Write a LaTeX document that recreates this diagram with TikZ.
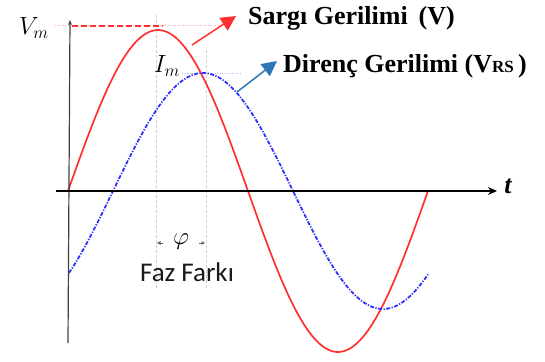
\documentclass[tikz,border=0pt]{standalone}
\usepackage{amsmath}
\usepackage{fontspec}
\usetikzlibrary{arrows.meta}
\newfontfamily\calfont{Carlito}
\newfontfamily\timesfont{Liberation Serif}
\definecolor{sred}{HTML}{FF3030}
\definecolor{sblue}{HTML}{3030FF}
\definecolor{arrblue}{HTML}{2E75B6}
\definecolor{lpink}{HTML}{FFB0B0}
\definecolor{lblue}{HTML}{B0B0FF}
\definecolor{gridgray}{HTML}{D0D0D0}
\tikzset{
  gridline/.style={gridgray, line width=0.8pt, dash pattern=on 3pt off 2pt},
  guide/.style={line width=1pt, dash pattern=on 1pt off 1.5pt},
  redcurve/.style={sred, line width=1.7pt},
  bluecurve/.style={sblue, line width=1.8pt, dash pattern=on 4pt off 1.5pt on 1.2pt off 1.5pt},
  bigtitle/.style={font=\timesfont\bfseries\fontsize{26}{30}\selectfont, inner sep=0pt, anchor=base west},
  mathlbl/.style={font=\fontsize{27}{30}\selectfont, inner sep=0pt},
  pointer/.style={line width=1.5pt, -{Triangle[length=15pt,width=15pt]}},
}
\begin{document}
\begin{tikzpicture}[x=1pt,y=-1pt]
\useasboundingbox (0,0) rectangle (545,361);
% vertical guide lines
\coordinate (g1t) at (156,15); \coordinate (g1b) at (156,290);
\coordinate (g2t) at (206,50); \coordinate (g2b) at (206,290);
\draw[gridline] (g1t) -- (g1b);
\draw[gridline] (g2t) -- (g2b);
% horizontal guides
\coordinate (pk1) at (55,26); \coordinate (pk2) at (220,26);
\coordinate (vd1) at (72,26); \coordinate (vd2) at (163,26);
\coordinate (bl1) at (182,73); \coordinate (bl2) at (242,73);
\draw[guide, lpink] (pk1) -- (pk2);
\draw[guide, lblue] (bl1) -- (bl2);
\draw[sred, line width=2pt, dash pattern=on 6pt off 3pt] (vd1) -- (vd2);
% curves
\draw[redcurve] plot[domain=68:428, samples=150, smooth] (\x, {191-161*sin(\x-68)});
\draw[bluecurve] plot[domain=69:428, samples=150, smooth] (\x, {191-118*sin(\x-113)});
% axes
\coordinate (vb) at (68,343); \coordinate (vt) at (70,20);
\draw[black!75, line width=1.2pt, -{Stealth[length=5pt,width=4pt]}] (vb) -- (vt);
\coordinate (hl) at (56,191); \coordinate (hr) at (497,191);
\draw[black, line width=2.5pt, -{Stealth[length=9pt,width=8pt]}] (hl) -- (hr);
\node[font=\timesfont\bfseries\itshape\fontsize{26}{30}\selectfont, inner sep=0pt] (t) at (508,186) {t};
% labels
\node[mathlbl] (vm) at (34,28) {$V_m$};
\node[mathlbl] (im) at (167,66) {$I_m$};
\node[bigtitle] (sargi) at (248,25) {Sargı Gerilimi \,(V)};
\node[bigtitle] (direnc) at (283,72) {Direnç Gerilimi (V{\fontsize{17}{20}\selectfont RS}\,)};
% pointers
\coordinate (ra) at (192,45); \coordinate (rb) at (236,16);
\coordinate (ba) at (237,92); \coordinate (bb) at (277,61);
\draw[pointer, sred] (ra) -- (rb);
\draw[pointer, arrblue] (ba) -- (bb);
% phase
\node[font=\fontsize{26}{28}\selectfont, inner sep=0pt] (phi) at (181,242) {$\varphi$};
\coordinate (pl) at (157,243); \coordinate (pr) at (205,243);
\draw[black!60, line width=0.6pt, -{Triangle[length=3.5pt,width=3.5pt]}] (163,243) -- (pl);
\draw[black!60, line width=0.6pt, -{Triangle[length=3.5pt,width=3.5pt]}] (199,243) -- (pr);
\node[font=\calfont\fontsize{27}{30}\selectfont, text=black!90, inner sep=0pt] (faz) at (187,272) {Faz Farkı};
\end{tikzpicture}
\end{document}
